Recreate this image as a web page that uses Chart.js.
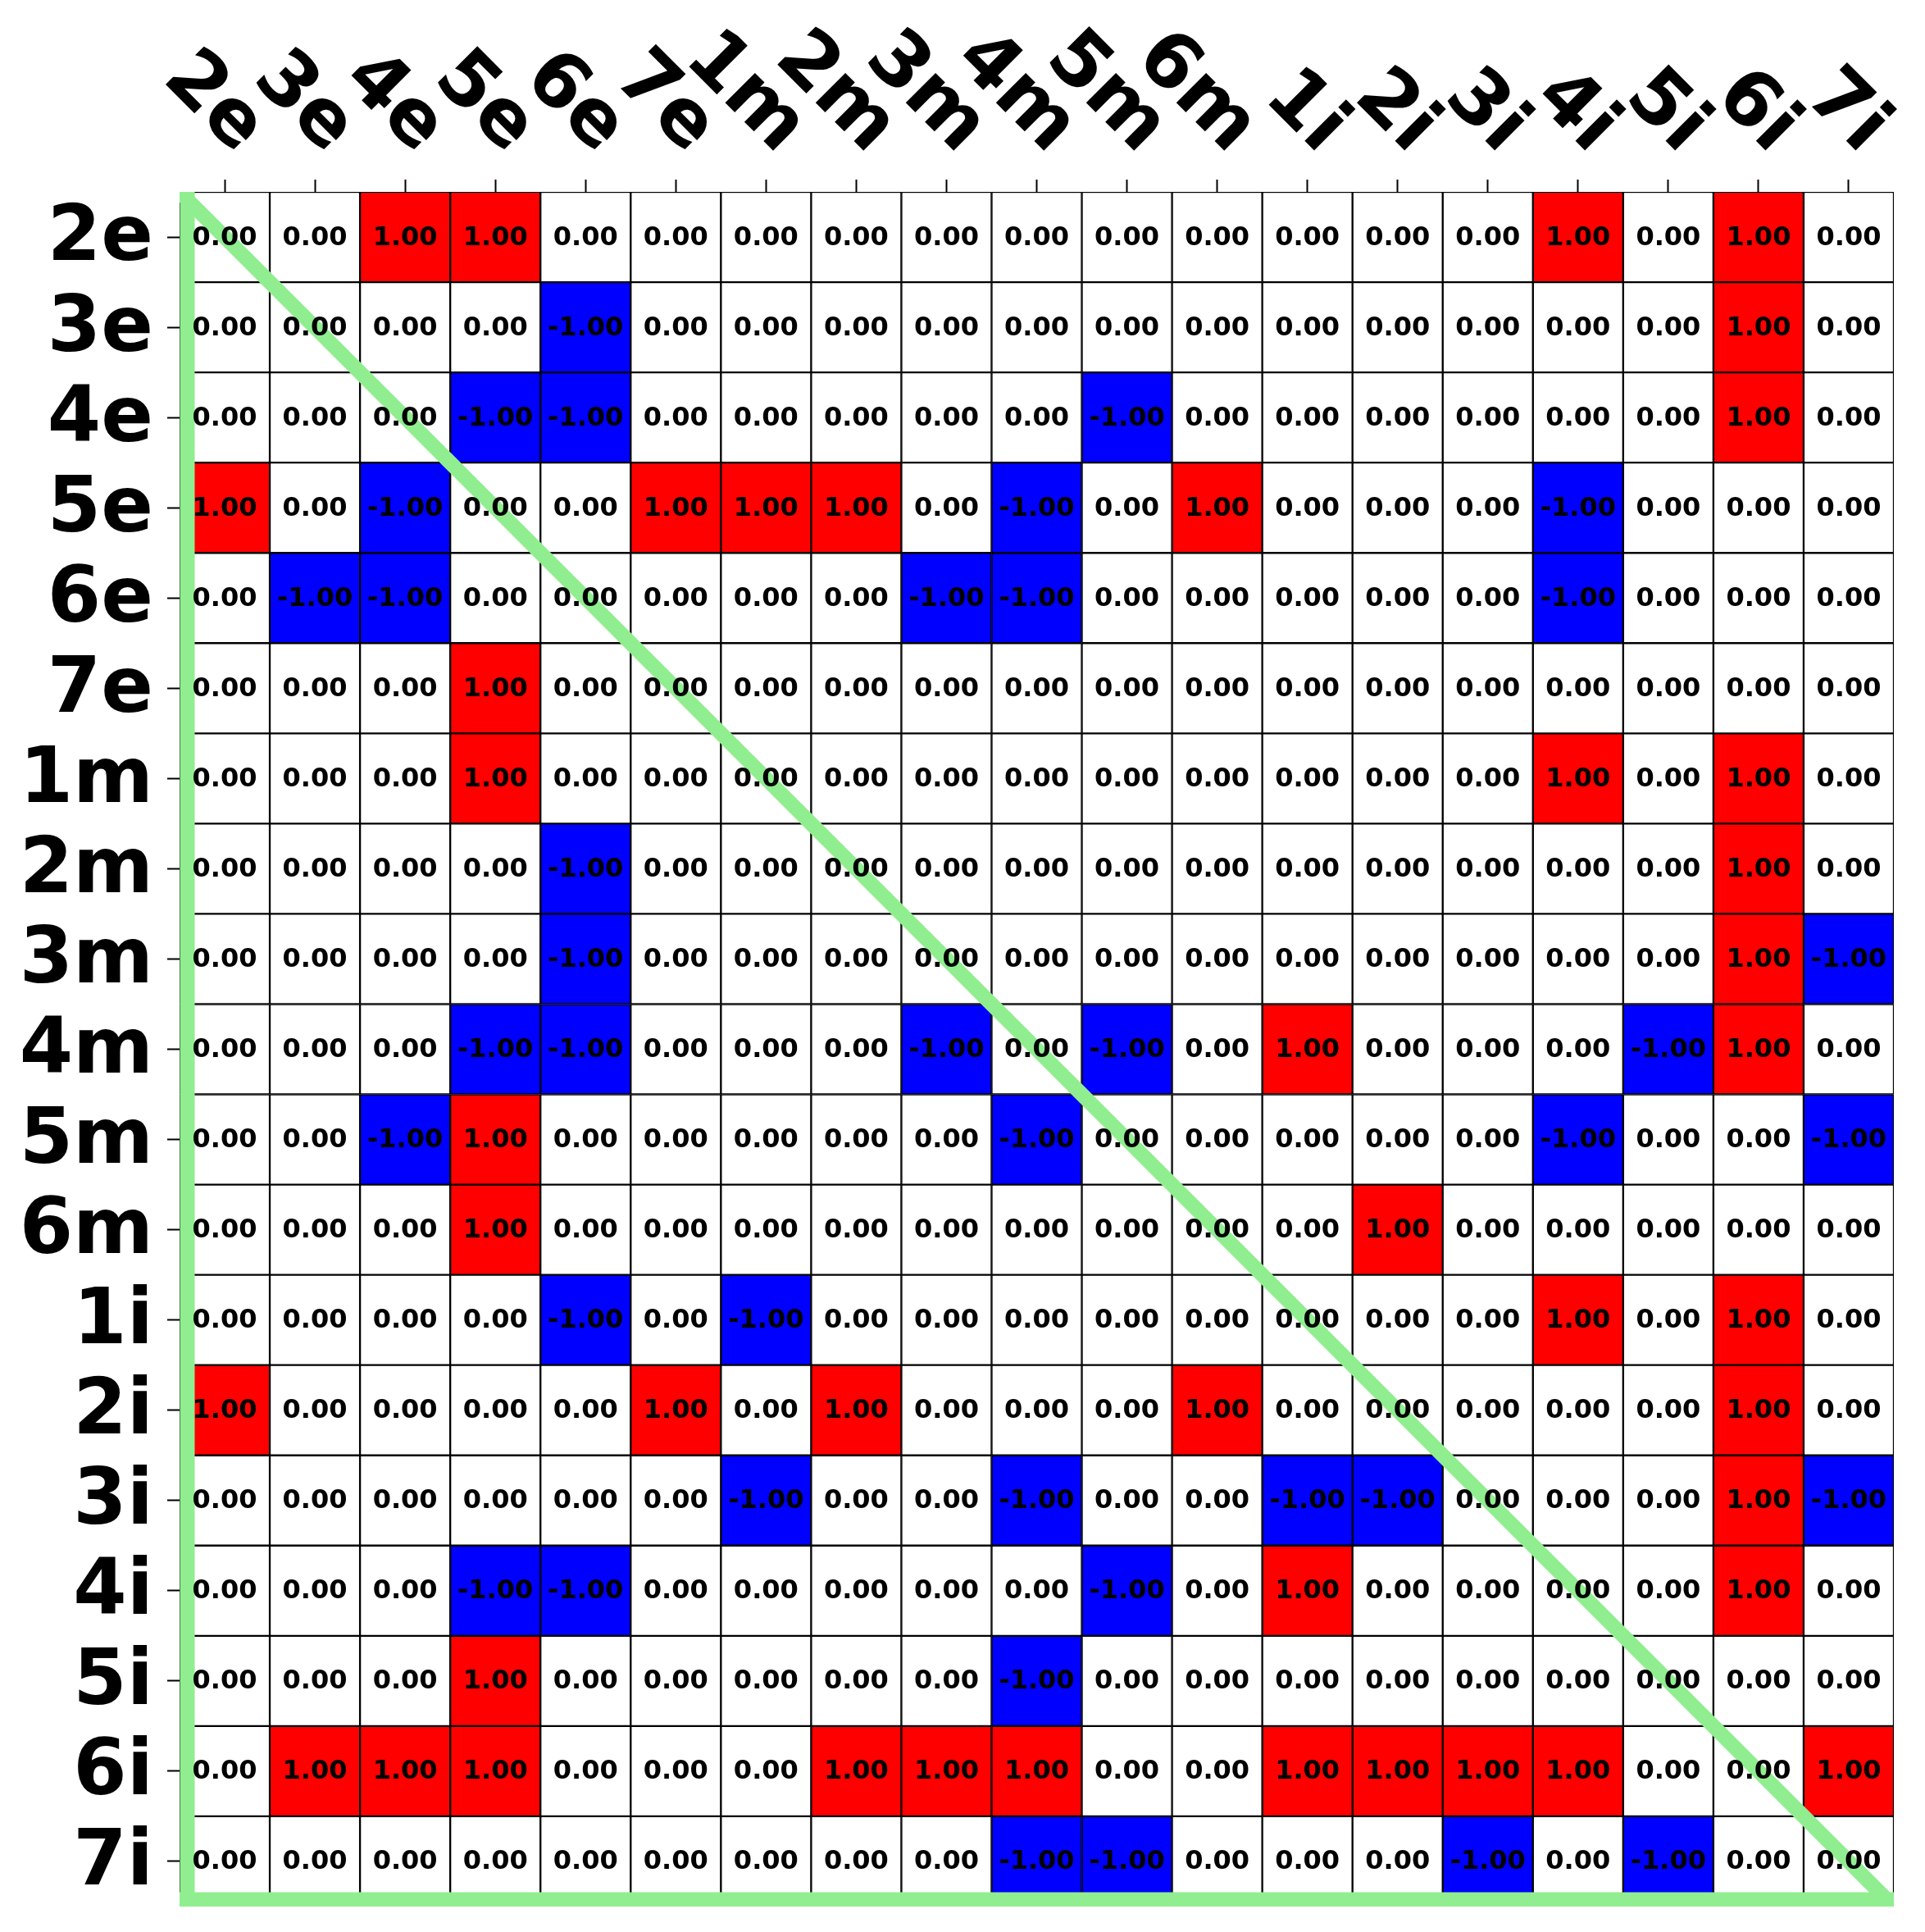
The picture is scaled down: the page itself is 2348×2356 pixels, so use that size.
<!DOCTYPE html>
<html>
<head>
<meta charset="utf-8">
<script src="https://cdn.jsdelivr.net/npm/chart.js@4.4.1/dist/chart.umd.min.js"></script>
<style>
  html, body { margin: 0; padding: 0; background: #ffffff; }
  #wrap { width: 2348px; height: 2356px; }
</style>
</head>
<body>
<div id="wrap"><canvas id="c" width="2348" height="2356"></canvas></div>
<script>
// ---- data ----
const rowLabels = ['2e','3e','4e','5e','6e','7e','1m','2m','3m','4m','5m','6m','1i','2i','3i','4i','5i','6i','7i'];
const colLabels = ['2e','3e','4e','5e','6e','7e','1m','2m','3m','4m','5m','6m','1i','2i','3i','4i','5i','6i','7i'];

const row2e = [ 0, 0, 1, 1, 0, 0, 0, 0, 0, 0, 0, 0, 0, 0, 0, 1, 0, 1, 0];
const row3e = [ 0, 0, 0, 0,-1, 0, 0, 0, 0, 0, 0, 0, 0, 0, 0, 0, 0, 1, 0];
const row4e = [ 0, 0, 0,-1,-1, 0, 0, 0, 0, 0,-1, 0, 0, 0, 0, 0, 0, 1, 0];
const row5e = [ 1, 0,-1, 0, 0, 1, 1, 1, 0,-1, 0, 1, 0, 0, 0,-1, 0, 0, 0];
const row6e = [ 0,-1,-1, 0, 0, 0, 0, 0,-1,-1, 0, 0, 0, 0, 0,-1, 0, 0, 0];
const row7e = [ 0, 0, 0, 1, 0, 0, 0, 0, 0, 0, 0, 0, 0, 0, 0, 0, 0, 0, 0];
const row1m = [ 0, 0, 0, 1, 0, 0, 0, 0, 0, 0, 0, 0, 0, 0, 0, 1, 0, 1, 0];
const row2m = [ 0, 0, 0, 0,-1, 0, 0, 0, 0, 0, 0, 0, 0, 0, 0, 0, 0, 1, 0];
const row3m = [ 0, 0, 0, 0,-1, 0, 0, 0, 0, 0, 0, 0, 0, 0, 0, 0, 0, 1,-1];
const row4m = [ 0, 0, 0,-1,-1, 0, 0, 0,-1, 0,-1, 0, 1, 0, 0, 0,-1, 1, 0];
const row5m = [ 0, 0,-1, 1, 0, 0, 0, 0, 0,-1, 0, 0, 0, 0, 0,-1, 0, 0,-1];
const row6m = [ 0, 0, 0, 1, 0, 0, 0, 0, 0, 0, 0, 0, 0, 1, 0, 0, 0, 0, 0];
const row1i = [ 0, 0, 0, 0,-1, 0,-1, 0, 0, 0, 0, 0, 0, 0, 0, 1, 0, 1, 0];
const row2i = [ 1, 0, 0, 0, 0, 1, 0, 1, 0, 0, 0, 1, 0, 0, 0, 0, 0, 1, 0];
const row3i = [ 0, 0, 0, 0, 0, 0,-1, 0, 0,-1, 0, 0,-1,-1, 0, 0, 0, 1,-1];
const row4i = [ 0, 0, 0,-1,-1, 0, 0, 0, 0, 0,-1, 0, 1, 0, 0, 0, 0, 1, 0];
const row5i = [ 0, 0, 0, 1, 0, 0, 0, 0, 0,-1, 0, 0, 0, 0, 0, 0, 0, 0, 0];
const row6i = [ 0, 1, 1, 1, 0, 0, 0, 1, 1, 1, 0, 0, 1, 1, 1, 1, 0, 0, 1];
const row7i = [ 0, 0, 0, 0, 0, 0, 0, 0, 0,-1,-1, 0, 0, 0,-1, 0,-1, 0, 0];

const matrix = [row2e,row3e,row4e,row5e,row6e,row7e,row1m,row2m,row3m,row4m,row5m,row6m,
                row1i,row2i,row3i,row4i,row5i,row6i,row7i];

// ---- styling ----
const FONT = '"DejaVu Sans", "Liberation Sans", sans-serif';
const cellColor = v => v > 0 ? '#ff0000' : (v < 0 ? '#0000ff' : '#ffffff');

Chart.defaults.font.family = FONT;

// each column is one dataset of floating horizontal bars spanning its column band
const datasets = colLabels.map((c, j) => ({
  label: c,
  data: matrix.map(() => [j - 0.5, j + 0.5]),
  backgroundColor: matrix.map(r => cellColor(r[j])),
  borderColor: '#000000',
  borderWidth: 1.5,
  borderSkipped: false,
  barPercentage: 1,
  categoryPercentage: 1,
  grouped: false
}));

const overlay = {
  id: 'overlay',
  afterDatasetsDraw(chart) {
    const { ctx, chartArea: a, scales } = chart;
    // green triangle
    ctx.save();
    ctx.beginPath();
    ctx.rect(a.left, a.top, a.right - a.left, a.bottom - a.top);
    ctx.clip();
    ctx.strokeStyle = '#90ee90';
    ctx.lineWidth = 18;
    ctx.lineCap = 'butt';
    ctx.beginPath(); ctx.moveTo(a.left + 9.5, a.top); ctx.lineTo(a.left + 9.5, a.bottom); ctx.stroke();
    ctx.beginPath(); ctx.moveTo(a.left, a.bottom - 8.5); ctx.lineTo(a.right, a.bottom - 8.5); ctx.stroke();
    ctx.beginPath(); ctx.moveTo(a.left, a.top); ctx.lineTo(a.right, a.bottom); ctx.stroke();
    ctx.restore();

    // cell annotations
    ctx.save();
    ctx.fillStyle = '#000000';
    ctx.font = 'bold 32px ' + FONT;
    ctx.textAlign = 'center';
    ctx.textBaseline = 'alphabetic';
    matrix.forEach((row, i) => {
      const y = scales.y.getPixelForValue(i);
      row.forEach((v, j) => {
        const x = scales.x.getPixelForValue(j);
        ctx.fillText(v.toFixed(2), x, y + 9.5);
      });
    });
    ctx.restore();
  },
  afterDraw(chart) {
    const { ctx, chartArea: a, scales } = chart;
    ctx.save();
    ctx.fillStyle = '#000000';
    ctx.font = 'bold 94px ' + FONT;
    ctx.textAlign = 'right';
    ctx.textBaseline = 'alphabetic';
    colLabels.forEach((lab, j) => {
      const x = scales.x.getPixelForValue(j);
      ctx.save();
      ctx.translate(x + 14, a.top - 45);
      ctx.rotate(Math.PI / 4);
      ctx.fillText(lab, 0, 0);
      ctx.restore();
    });
    ctx.restore();
  }
};

new Chart(document.getElementById('c'), {
  type: 'bar',
  data: { labels: rowLabels, datasets },
  options: {
    indexAxis: 'y',
    responsive: false,
    animation: false,
    devicePixelRatio: 1,
    layout: { padding: { left: 0, top: 0, right: 38, bottom: 31 } },
    plugins: { legend: { display: false }, tooltip: { enabled: false } },
    scales: {
      x: {
        type: 'linear',
        position: 'top',
        min: -0.5,
        max: 18.5,
        afterBuildTicks: s => { s.ticks = colLabels.map((_, i) => ({ value: i })); },
        afterFit: s => { s.height = 234; s.paddingLeft = 0; s.paddingRight = 0; },
        ticks: { display: false },
        grid: { drawOnChartArea: false, drawTicks: true, tickLength: 15, tickColor: '#000000', tickWidth: 2 },
        border: { display: false }
      },
      y: {
        type: 'category',
        position: 'left',
        offset: true,
        afterFit: s => { s.width = 219; s.paddingTop = 0; s.paddingBottom = 0; },
        ticks: {
          autoSkip: false,
          color: '#000000',
          padding: 17,
          labelOffset: 4,
          font: { family: FONT, weight: 'bold', size: 94 }
        },
        grid: { offset: false, drawOnChartArea: false, drawTicks: true, tickLength: 15, tickColor: '#000000', tickWidth: 2 },
        border: { display: false }
      }
    }
  },
  plugins: [overlay]
});
</script>
</body>
</html>
